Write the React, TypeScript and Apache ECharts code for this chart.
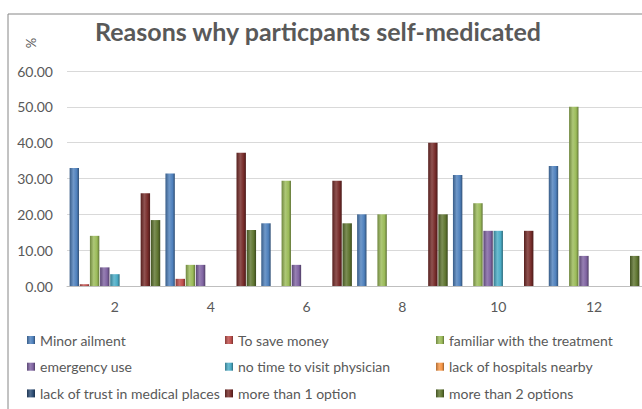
import React, { useEffect, useRef } from "react";
import * as echarts from "echarts";

const categories = ["2", "4", "6", "8", "10", "12"];
const seriesNames = [
  "Minor ailment",
  "To save money",
  "familiar with the treatment",
  "emergency use",
  "no time to visit physician",
  "lack of hospitals nearby",
  "lack of trust in medical places",
  "more than 1 option",
  "more than 2 options",
];
const minorAilment = [32.9, 31.4, 17.5, 20.0, 31.0, 33.5];
const toSaveMoney = [0.5, 2.0, 0, 0, 0, 0];
const familiar = [14.0, 5.9, 29.4, 20.0, 23.1, 50.0];
const emergencyUse = [5.2, 5.9, 5.9, 0, 15.4, 8.4];
const noTime = [3.3, 0, 0, 0, 15.4, 0];
const lackHospitals = [0, 0, 0, 0, 0, 0];
const lackTrust = [0, 0, 0, 0, 0, 0];
const moreThan1 = [25.9, 37.2, 29.4, 40.0, 15.4, 0];
const moreThan2 = [18.4, 15.6, 17.5, 20.0, 0, 8.4];
const seriesData = [
  minorAilment,
  toSaveMoney,
  familiar,
  emergencyUse,
  noTime,
  lackHospitals,
  lackTrust,
  moreThan1,
  moreThan2,
];
const colors = [
  "#4F81BD",
  "#C0504D",
  "#9BBB59",
  "#8064A2",
  "#4BACC6",
  "#F79646",
  "#2C4D75",
  "#772C2A",
  "#5F7530",
];
const yTicks = [0, 10, 20, 30, 40, 50, 60];

function shade(hex: string, f: number): string {
  const n = parseInt(hex.slice(1), 16);
  let r = (n >> 16) & 255;
  let g = (n >> 8) & 255;
  let b = n & 255;
  const adj = (c: number) =>
    f < 1 ? Math.round(c * f) : Math.round(c + (255 - c) * (f - 1));
  r = adj(r);
  g = adj(g);
  b = adj(b);
  return "#" + ((1 << 24) | (r << 16) | (g << 8) | b).toString(16).slice(1);
}

function grad(hex: string) {
  return new echarts.graphic.LinearGradient(0, 0, 1, 0, [
    { offset: 0, color: shade(hex, 0.72) },
    { offset: 0.4, color: shade(hex, 1.18) },
    { offset: 0.75, color: hex },
    { offset: 1, color: shade(hex, 0.62) },
  ]);
}

export default function App() {
  const ref = useRef<HTMLDivElement>(null);
  useEffect(() => {
    if (!ref.current) return;
    const chart = echarts.init(ref.current, undefined, { renderer: "svg" });
    const font = "Lato, 'Open Sans', sans-serif";
    const textColor = "#595959";
    const legendCols = [
      [seriesNames[0], seriesNames[3], seriesNames[6]],
      [seriesNames[1], seriesNames[4], seriesNames[7]],
      [seriesNames[2], seriesNames[5], seriesNames[8]],
    ];
    const legendLeft = [27, 225, 436];
    chart.setOption({
      animation: false,
      backgroundColor: "#ffffff",
      title: {
        text: "Reasons why particpants self-medicated",
        left: 95,
        top: 18,
        padding: 0,
        textStyle: {
          fontFamily: font,
          fontSize: 25,
          fontWeight: "bold",
          color: textColor,
        },
      },
      graphic: [
        {
          type: "rect",
          shape: { x: 8, y: 14, width: 800, height: 600 },
          style: { fill: "none", stroke: "#868686", lineWidth: 1 },
          silent: true,
          z: -1,
        },
        {
          type: "text",
          x: 31,
          y: 43,
          rotation: Math.PI / 2,
          style: {
            text: "%",
            fontFamily: font,
            fontSize: 13,
            fill: textColor,
            align: "center",
            verticalAlign: "middle",
          },
        },
      ],
      legend: legendCols.map((col, i) => ({
        orient: "vertical",
        left: legendLeft[i],
        top: 332,
        padding: 0,
        itemWidth: 8,
        itemHeight: 8,
        itemGap: 10.7,
        icon: "rect",
        data: col,
        textStyle: {
          fontFamily: font,
          fontSize: 14,
          lineHeight: 16,
          color: textColor,
        },
      })),
      grid: { left: 67, top: 71, width: 578, height: 215, containLabel: false },
      xAxis: {
        type: "category",
        data: categories,
        axisTick: { show: false },
        axisLine: { lineStyle: { color: "#BFBFBF" } },
        axisLabel: {
          margin: 13,
          fontFamily: font,
          fontSize: 14,
          color: textColor,
        },
      },
      yAxis: {
        type: "value",
        min: yTicks[0],
        max: yTicks[yTicks.length - 1],
        interval: 10,
        axisLine: { show: false },
        axisTick: { show: false },
        splitLine: { lineStyle: { color: "#D9D9D9" } },
        axisLabel: {
          margin: 14,
          fontFamily: font,
          fontSize: 14,
          color: textColor,
          formatter: (v: number) => v.toFixed(2),
        },
      },
      series: seriesNames.map((name, i) => ({
        name,
        type: "bar",
        data: seriesData[i],
        barWidth: 9.4,
        barGap: "8%",
        itemStyle: { color: grad(colors[i]) },
      })),
    });
    return () => chart.dispose();
  }, []);
  return (
    <div
      ref={ref}
      style={{
        position: "fixed",
        left: 0,
        top: 0,
        width: 642,
        height: 409,
        background: "#fff",
      }}
    />
  );
}
